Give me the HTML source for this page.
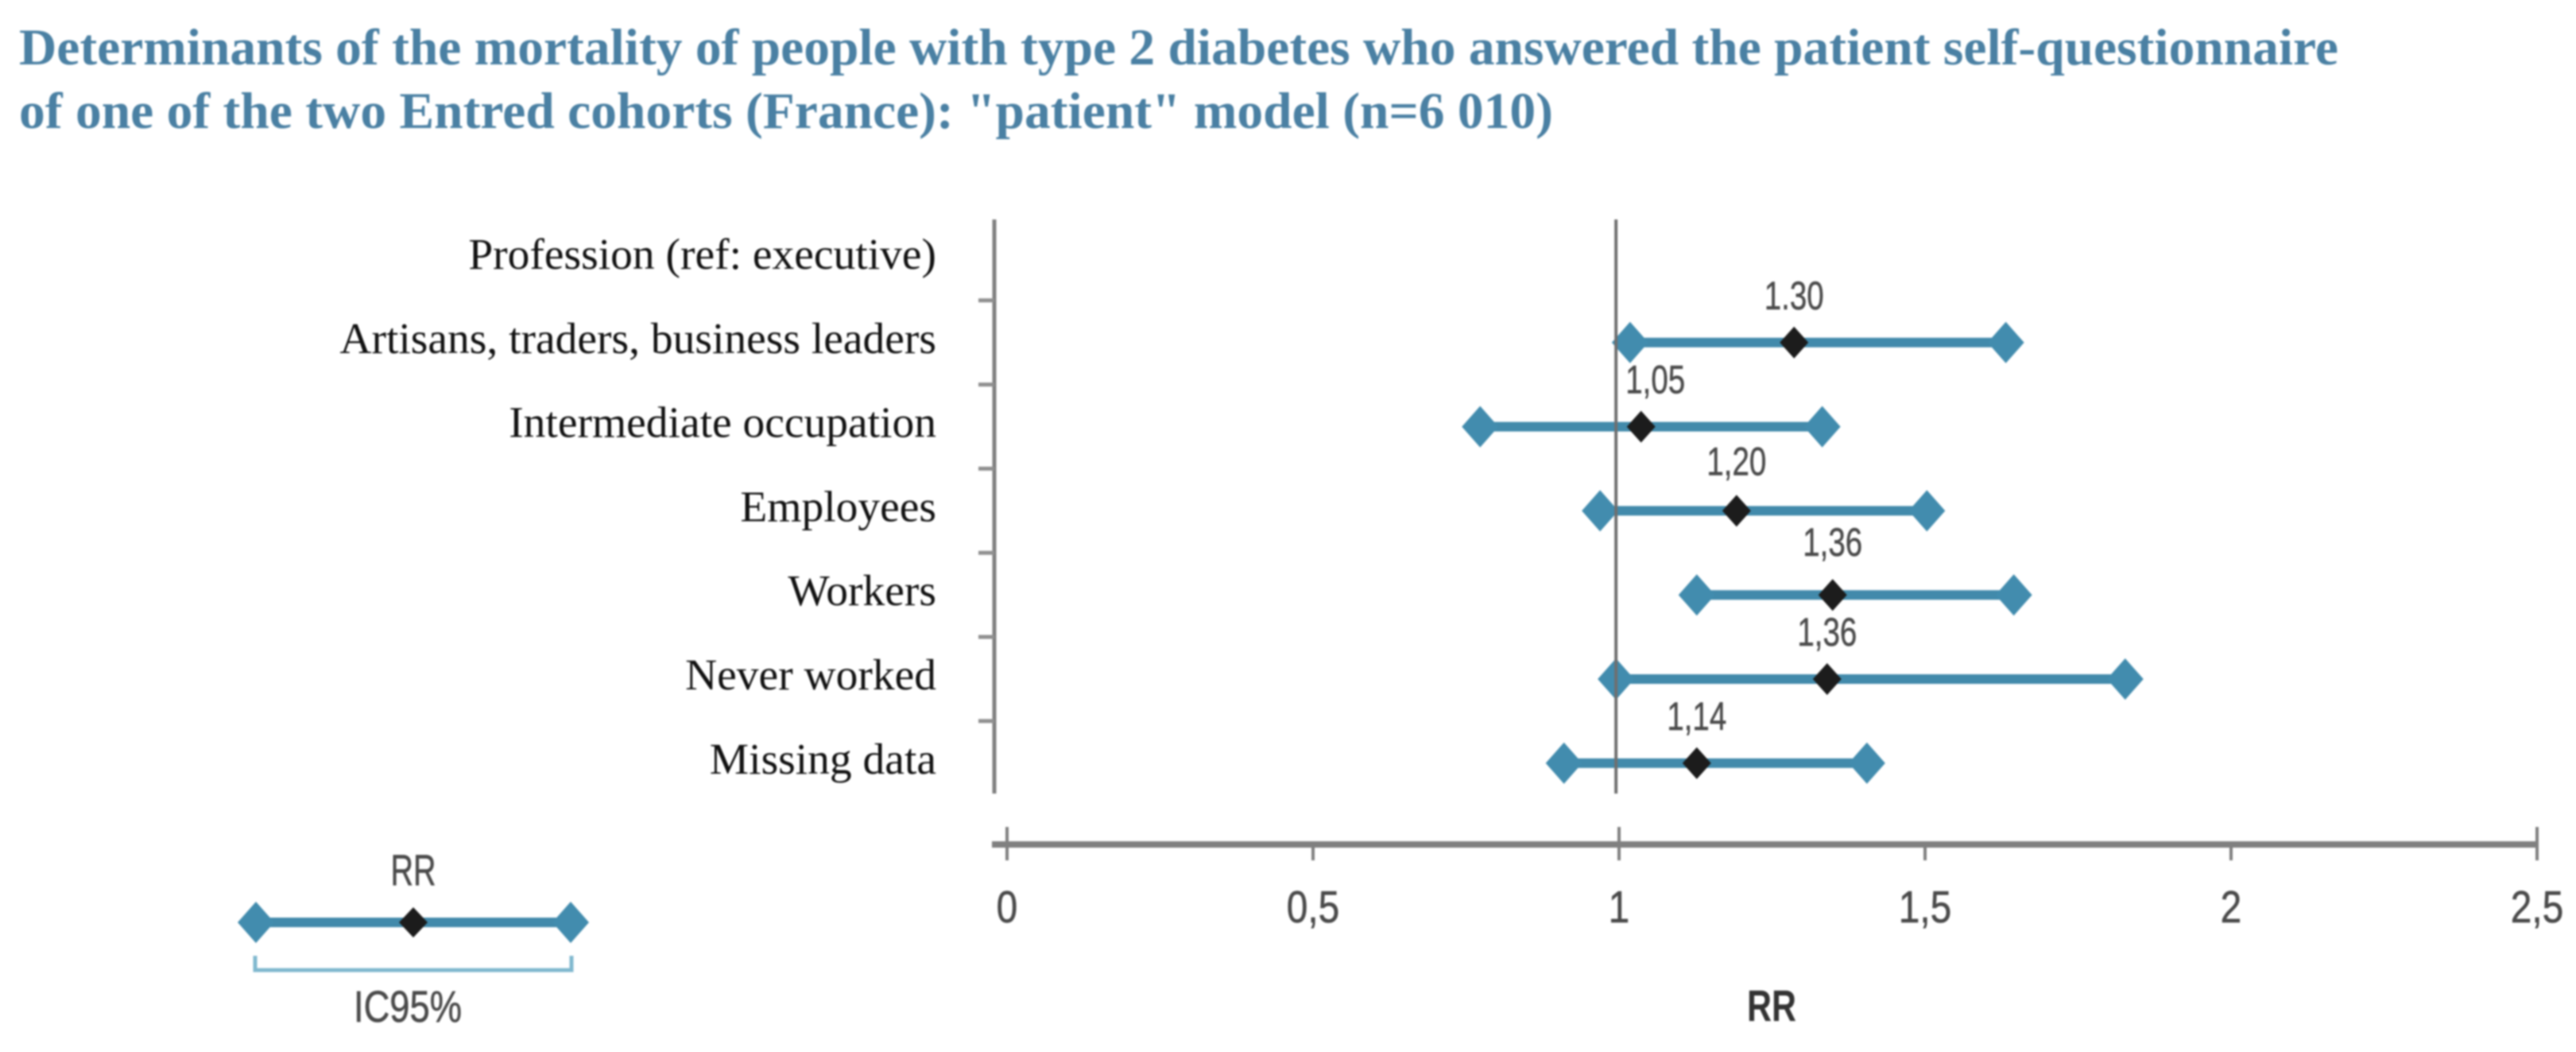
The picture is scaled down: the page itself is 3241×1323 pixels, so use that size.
<!DOCTYPE html>
<html lang="en">
<head>
<meta charset="utf-8">
<title>Determinants of mortality, Entred cohorts</title>
<style>
html,body{margin:0;padding:0;background:#fff;}
body{width:3241px;height:1323px;overflow:hidden;}
svg{display:block;filter:blur(1px);}
.serif{font-family:"Liberation Serif","Times New Roman",serif;}
.sans{font-family:"Liberation Sans",Arial,sans-serif;}
</style>
</head>
<body>
<svg id="chart" xmlns="http://www.w3.org/2000/svg" width="3241" height="1323" viewBox="0 0 3241 1323">
  <rect x="0" y="0" width="3241" height="1323" fill="#ffffff"/>
  <text class="serif" x="24" y="81" font-size="65" font-weight="700" fill="#4a80a3" textLength="2918" lengthAdjust="spacingAndGlyphs">Determinants of the mortality of people with type 2 diabetes who answered the patient self-questionnaire</text>
  <text class="serif" x="24" y="161" font-size="65" font-weight="700" fill="#4a80a3" textLength="1930" lengthAdjust="spacingAndGlyphs">of one of the two Entred cohorts (France): "patient" model (n=6 010)</text>

  <g id="y-axis"></g>
  <g id="x-axis"></g>
  <g id="series"></g>

  <g id="legend">
    <text class="sans" x="520" y="1113" font-size="55" fill="#4a4a4a" stroke="#4a4a4a" stroke-width="0.6" text-anchor="middle" textLength="57" lengthAdjust="spacingAndGlyphs">RR</text>
    <line x1="322" y1="1160" x2="718" y2="1160" stroke="#428aab" stroke-width="12"/>
    <polygon points="299,1160 322,1134 345,1160 322,1186" fill="#428cae"/>
    <polygon points="695,1160 718,1134 741,1160 718,1186" fill="#428cae"/>
    <polygon points="502,1160 520,1141 538,1160 520,1179" fill="#1c1c1c"/>
    <path d="M321 1202 V1220 H719 V1202" fill="none" stroke="#80b8cf" stroke-width="5"/>
    <text class="sans" x="513" y="1285" font-size="56" fill="#4a4a4a" stroke="#4a4a4a" stroke-width="0.6" text-anchor="middle" textLength="136" lengthAdjust="spacingAndGlyphs">IC95%</text>
  </g>

  <text class="sans" x="2229" y="1284" font-size="56" font-weight="700" fill="#333" text-anchor="middle" textLength="62" lengthAdjust="spacingAndGlyphs">RR</text>
</svg>

<script>
// Chart data
const categories = ['Profession (ref: executive)', 'Artisans, traders, business leaders', 'Intermediate occupation', 'Employees', 'Workers', 'Never worked', 'Missing data'];
const ciLow = [null, 1.018, 0.773, 0.969, 1.127, 0.995, 0.910];
const rrPoint = [null, 1.286, 1.036, 1.192, 1.349, 1.340, 1.127];
const ciHigh = [null, 1.632, 1.332, 1.503, 1.645, 1.827, 1.405];
const printedValues = [null, '1.30', '1,05', '1,20', '1,36', '1,36', '1,14'];
const xTickValues = [0, 0.5, 1, 1.5, 2, 2.5];
const xTickLabels = ['0', '0,5', '1', '1,5', '2', '2,5'];
const referenceValue = 0.995;

// Axis functions
function xScale(v) { return 1267 + 770 * v; }
function rowY(i) { return 325 + 105.8 * i; }

const NS = 'http://www.w3.org/2000/svg';
function make(tag, parent, attrs, text) {
  const el = document.createElementNS(NS, tag);
  for (const k in attrs) el.setAttribute(k, attrs[k]);
  if (text !== undefined) el.textContent = text;
  parent.appendChild(el);
  return el;
}
function diamond(cx, cy, hw, hh) {
  return (cx - hw) + ',' + cy + ' ' + cx + ',' + (cy - hh) + ' ' + (cx + hw) + ',' + cy + ' ' + cx + ',' + (cy + hh);
}

const yAxis = document.getElementById('y-axis');
const xAxis = document.getElementById('x-axis');
const series = document.getElementById('series');

// Y axis
const yLine = make('line', yAxis, { x1: 1251, y1: 276, x2: 1251, y2: 998, stroke: '#808080', 'stroke-width': 5 });



categories.forEach(function (cat, i) {
  const label = make('text', yAxis, { class: 'serif', x: 1178, y: rowY(i) + 13, 'font-size': 55.5, fill: '#111', 'text-anchor': 'end' }, cat);
  
  
  if (i > 0) {
    const tick = make('line', yAxis, { x1: 1231, y1: rowY(i) - 53, x2: 1251, y2: rowY(i) - 53, stroke: '#909090', 'stroke-width': 5 });
    
    
  }
});

// X axis
const xLine = make('line', xAxis, { x1: 1248, y1: 1062, x2: xScale(xTickValues[xTickValues.length - 1]), y2: 1062, stroke: '#808080', 'stroke-width': 8 });



xTickValues.forEach(function (v, i) {
  const tall = (v === 0 || v === 1 || v === 2.5);
  const tick = make('line', xAxis, { x1: xScale(v), y1: tall ? 1040 : 1062, x2: xScale(v), y2: 1082, stroke: '#808080', 'stroke-width': 4 });
  
  
  const label = make('text', xAxis, { class: 'sans', x: xScale(v), y: 1160, 'font-size': 57, fill: '#4a4a4a', stroke: '#4a4a4a', 'stroke-width': 0.6, 'text-anchor': 'middle', transform: 'translate(' + (xScale(v) * 0.16) + ' 0) scale(0.84 1)' }, xTickLabels[i]);
  
  
});

// Confidence intervals and markers
categories.forEach(function (cat, i) {
  if (rrPoint[i] === null) return;
  const y = rowY(i);
  const line = make('line', series, { x1: xScale(ciLow[i]), y1: y, x2: xScale(ciHigh[i]), y2: y, stroke: '#428aab', 'stroke-width': 12 });
  
  
  const low = make('polygon', series, { points: diamond(xScale(ciLow[i]), y, 23, 26), fill: '#428cae' });
  
  
  const high = make('polygon', series, { points: diamond(xScale(ciHigh[i]), y, 23, 26), fill: '#428cae' });
  
  
});

// Reference line at RR = 1, drawn across the intervals
const refLine = make('line', series, { x1: xScale(referenceValue), y1: 276, x2: xScale(referenceValue), y2: 998, stroke: '#6f6f6f', 'stroke-width': 4 });



categories.forEach(function (cat, i) {
  if (rrPoint[i] === null) return;
  const y = rowY(i);
  const x = xScale(rrPoint[i]);
  const point = make('polygon', series, { points: diamond(x, y, 18, 20), fill: '#1c1c1c' });
  
  
  const dx = (i === 2) ? 18 : 0;
  const dy = (i === 4) ? 49 : (i === 3) ? 45 : 42;
  const lx = x + dx;
  const value = make('text', series, { class: 'sans', x: lx, y: y - dy, 'font-size': 50, fill: '#4a4a4a', stroke: '#4a4a4a', 'stroke-width': 0.5, 'text-anchor': 'middle', transform: 'translate(' + (lx * 0.23) + ' 0) scale(0.77 1)' }, printedValues[i]);
  
  
});
</script>
</body>
</html>
